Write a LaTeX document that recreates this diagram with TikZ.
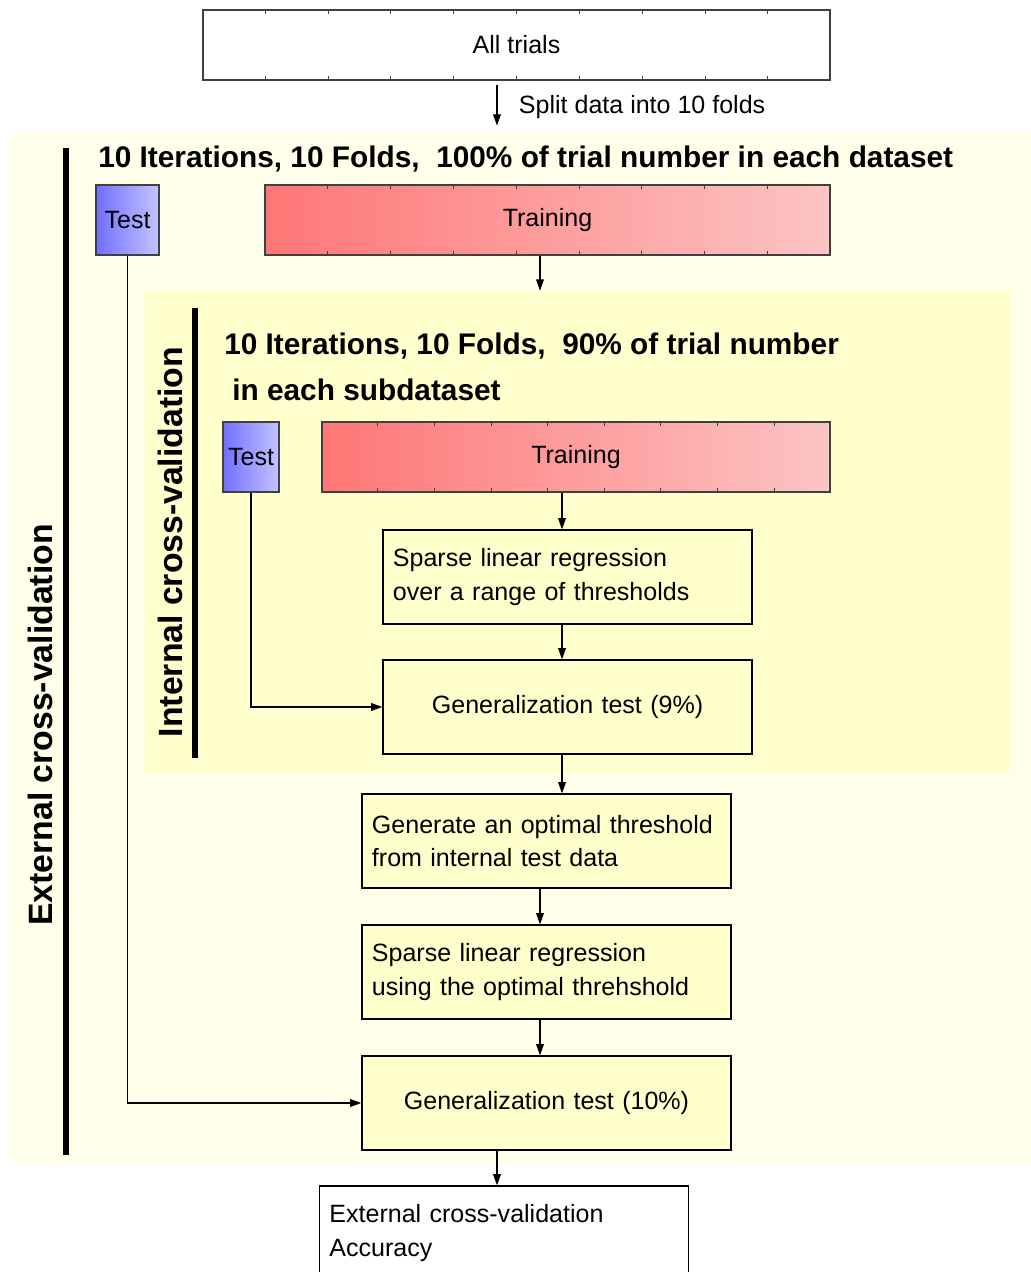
\documentclass[tikz,border=0pt]{standalone}
\usepackage{fontspec}
\setmainfont{Liberation Sans}
\usepackage{xcolor}
\usepackage{tikz}
\usetikzlibrary{arrows.meta, positioning, calc}
\definecolor{outeryellow}{RGB}{255,255,234}
\definecolor{inneryellow}{RGB}{255,255,206}
\definecolor{stepyellow}{RGB}{255,255,204}
\definecolor{testdark}{RGB}{112,112,255}
\definecolor{testlight}{RGB}{196,196,255}
\definecolor{traindark}{RGB}{255,118,118}
\definecolor{trainlight}{RGB}{252,196,196}
\newcommand{\stepfont}{\fontsize{17.8}{24}\selectfont}
\newcommand{\titlefont}{\fontsize{21.2}{26}\selectfont\bfseries}
\tikzset{
  panel/.style={rectangle, inner sep=0pt, draw=none},
  foldbox/.style={rectangle, draw=black!75, line width=0.9pt, inner sep=0pt,
                  minimum height=1.75cm, font=\stepfont},
  testbox/.style={foldbox, left color=testdark, right color=testlight},
  trainbox/.style={foldbox, left color=traindark, right color=trainlight},
  stepbox/.style={rectangle, draw=black, line width=0.9pt, fill=stepyellow,
                  text width=8.725cm, inner xsep=0.25cm, inner ysep=0pt,
                  minimum height=2.35cm, align=left, font=\stepfont},
  arrow/.style={-{Triangle[length=8pt,width=5.5pt]}, line width=0.9pt},
  tick/.style={draw=black!75, line width=0.6pt},
  bar/.style={line width=3.6pt},
  looplabel/.style={rotate=90, font=\fontsize{24}{28}\selectfont\bfseries},
  looptitle/.style={anchor=west, inner sep=0pt, font=\titlefont},
}
\begin{document}
\begin{tikzpicture}[x=0.025cm, y=-0.025cm]
  \useasboundingbox (0,0) rectangle (1031,1272);
  % backgrounds
  \node[panel, fill=outeryellow, minimum width=25.525cm, minimum height=25.75cm] (outer) at (520.5,648) {};
  \node[panel, fill=inneryellow, minimum width=21.625cm, minimum height=12.05cm] (inner) at (577.5,532) {};
  % columns of the arrows
  \coordinate (colA) at (562,0);
  \coordinate (colB) at (540,0);
  \coordinate (colC) at (497,0);

  \node[foldbox, fill=white, minimum width=15.675cm] (all) at (516.5,45) {All trials};
  \foreach \i in {1,...,9} {
    \draw[tick] ($(all.north west)!\i/10!(all.north east)$) -- ++(0,5);
    \draw[tick] ($(all.south west)!\i/10!(all.south east)$) -- ++(0,-5);
  }
  \draw[arrow, shorten <=3pt, shorten >=5pt] (all.south -| colC) -- (outer.north -| colC);
  \node[anchor=west, font=\stepfont] (split) at (514,107) {Split data into 10 folds};

  % external loop
  \draw[bar] (66,148) -- (66,1155);
  \node[looplabel] (extlabel) at (40,725) {External cross-validation};
  \node[looptitle] (exttitle) at (98,159) {10 Iterations, 10 Folds,\ \ 100\% of trial number in each dataset};
  \node[testbox, minimum width=1.575cm] (test1) at (127.5,220) {Test};
  \node[trainbox, minimum width=14.125cm] (train1) at (547.5,220) {Training};
  \foreach \i in {1,...,8} {
    \draw[tick] ($(train1.north west)!\i/9!(train1.north east)$) -- ++(0,5);
    \draw[tick] ($(train1.south west)!\i/9!(train1.south east)$) -- ++(0,-5);
  }
  \draw[arrow] (train1.south -| colB) -- (inner.north -| colB);

  % internal loop
  \draw[bar] (195,308) -- (195,758);
  \node[looplabel] (intlabel) at (170,542) {Internal cross-validation};
  \node[looptitle] (inttitle) at (224,346) {10 Iterations, 10 Folds,\ \ 90\% of trial number};
  \node[looptitle] (inttitle2) at (232,390) {in each subdataset};
  \node[testbox, minimum width=1.4cm] (test2) at (251,457) {Test};
  \node[trainbox, minimum width=12.7cm] (train2) at (576,457) {Training};
  \foreach \i in {1,...,8} {
    \draw[tick] ($(train2.north west)!\i/9!(train2.north east)$) -- ++(0,5);
    \draw[tick] ($(train2.south west)!\i/9!(train2.south east)$) -- ++(0,-5);
  }
  \node[stepbox] (sparse1) at (567.5,577) {Sparse linear regression\\over a range of thresholds};
  \node[stepbox, align=center] (gen9) at (567.5,707) {Generalization test (9\%)};

  % after the internal loop
  \node[stepbox] (optimal) at (546.5,841) {Generate an optimal threshold\\from internal test data};
  \node[stepbox] (sparse2) at (546.5,972) {Sparse linear regression\\using the optimal threhshold};
  \node[stepbox, align=center] (gen10) at (546.5,1103) {Generalization test (10\%)};
  \node[stepbox, fill=white] (accuracy) at (504,1233) {External cross-validation\\Accuracy};

  \draw[arrow] (train2.south -| colA) -- (sparse1.north -| colA);
  \draw[arrow] (sparse1.south -| colA) -- (gen9.north -| colA);
  \draw[arrow] (gen9.south -| colA) -- (optimal.north -| colA);
  \draw[arrow] (optimal.south -| colB) -- (sparse2.north -| colB);
  \draw[arrow] (sparse2.south -| colB) -- (gen10.north -| colB);
  \draw[arrow] (gen10.south -| colC) -- (accuracy.north -| colC);
  \draw[arrow] (test2.south) |- (gen9.west);
  \draw[arrow] (test1.south) |- (gen10.west);
\end{tikzpicture}
\end{document}
